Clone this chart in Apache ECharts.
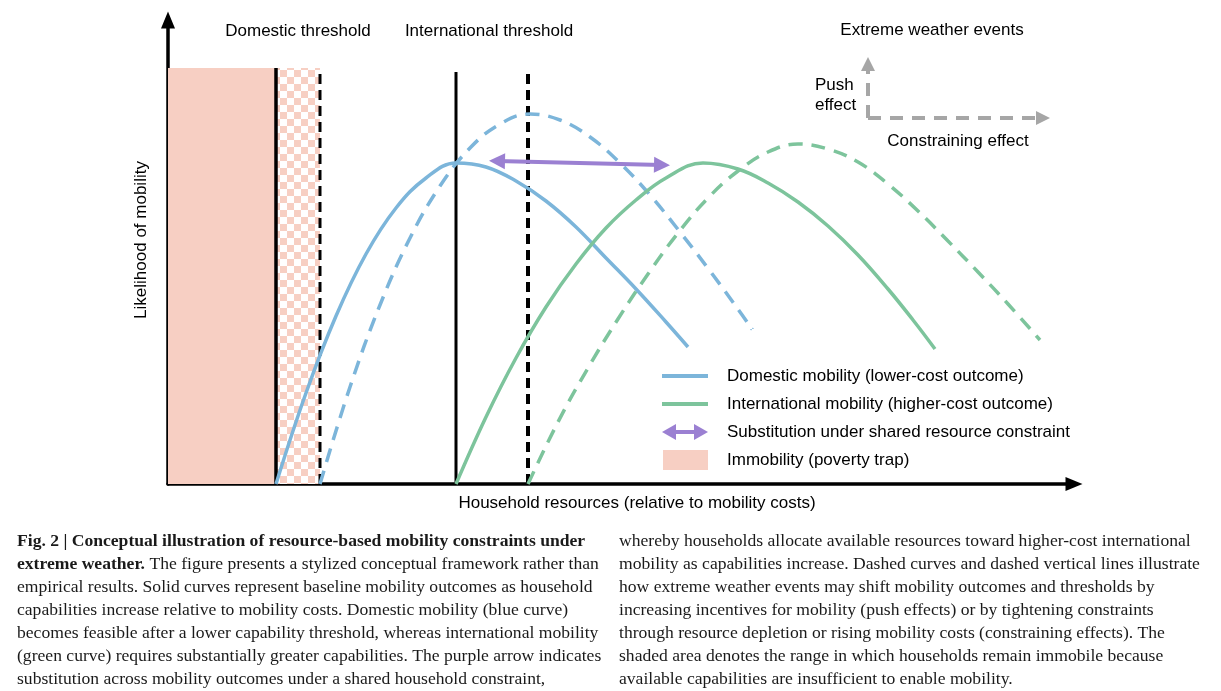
<!DOCTYPE html>
<html>
<head>
<meta charset="utf-8">
<script src="https://cdn.jsdelivr.net/npm/echarts@6/dist/echarts.min.js"></script>
<style>
  html, body { margin: 0; background: #fff; }
  #main { width: 1221px; height: 691px; }
</style>
</head>
<body>
<div id="main"></div>
<script>
// plot units: x = household resources, y = likelihood of mobility (origin at the axes corner)
var domesticBase = [[108,0],[138,91],[168,168],[198,230],[228,276],[258,306],[288,321],[318,317],
  [348,303],[378,283],[408,257],[438,226],[468,195],[498,162],[520,137]];
var domesticShift = [[152,0],[182,97],[212,179],[242,246],[272,298],[302,336],[332,360],[362,370],
  [392,364],[422,347],[452,321],[482,289],[512,252],[542,213],[572,172],[584,155]];
var internationalBase = [[288,0],[318,67],[348,126],[378,177],[408,220],[438,256],[468,284],[498,306],
  [535,321],[570,315],[600,301],[630,282],[660,258],[690,229],[720,195],[745,164],[767,135]];
var internationalShift = [[360,0],[390,62],[420,116],[450,165],[480,210],[510,251],[540,286],[570,313],
  [600,332],[630,340],[660,335],[690,322],[720,300],[750,273],[780,243],[810,212],[840,180],[872,144]];

var domesticThreshold = [108, 152];      // baseline, shifted
var internationalThreshold = [288, 360]; // baseline, shifted
var thresholdTop = [416, 416, 412, 414];
var immobileRange = [0, 108];
var shiftedImmobileRange = [108, 152];
var substitutionArrow = [[329, 323], [494, 319]];
var pushArrow = [[700, 366], [700, 420]];
var constrainArrow = [[700, 366], [875, 366]];

var BLUE = '#7cb5da', GREEN = '#7dc49c', PURPLE = '#9b80d2', PINK = '#f7cfc3', GRAY = '#a6a6a6';

// checkerboard for the shifted immobility band
var tile = document.createElement('canvas');
tile.width = 14; tile.height = 14;
var tctx = tile.getContext('2d');
tctx.fillStyle = '#fff'; tctx.fillRect(0, 0, 14, 14);
tctx.fillStyle = PINK; tctx.fillRect(0, 0, 7, 7); tctx.fillRect(7, 7, 7, 7);

var chart = echarts.init(document.getElementById('main'));

function vline(x, top, dashed, w) {
  return {
    type: 'line', data: [[x, 0], [x, top]], showSymbol: false, silent: true, z: 4,
    lineStyle: { color: '#000', width: w, type: dashed ? [10, 6] : 'solid' }
  };
}

var axisCommon = {
  type: 'value', min: 0,
  axisLine: { show: true, onZero: false, symbol: ['none', 'triangle'], symbolSize: [14, 17],
    lineStyle: { color: '#000', width: 3.5 } },
  axisTick: { show: false }, axisLabel: { show: false }, splitLine: { show: false }
};

var sans = 'Liberation Sans, Arial, sans-serif';
var serif = 'Liberation Serif, Times New Roman, serif';

var leftCaption = [
  '{b|Fig. 2 | Conceptual illustration of resource-based mobility constraints under}',
  '{b|extreme weather.} The figure presents a stylized conceptual framework rather than',
  'empirical results. Solid curves represent baseline mobility outcomes as household',
  'capabilities increase relative to mobility costs. Domestic mobility (blue curve)',
  'becomes feasible after a lower capability threshold, whereas international mobility',
  '(green curve) requires substantially greater capabilities. The purple arrow indicates',
  'substitution across mobility outcomes under a shared household constraint,'
];
var rightCaption = [
  'whereby households allocate available resources toward higher-cost international',
  'mobility as capabilities increase. Dashed curves and dashed vertical lines illustrate',
  'how extreme weather events may shift mobility outcomes and thresholds by',
  'increasing incentives for mobility (push effects) or by tightening constraints',
  'through resource depletion or rising mobility costs (constraining effects). The',
  'shaded area denotes the range in which households remain immobile because',
  'available capabilities are insufficient to enable mobility.'
];

function txt(x, y, s, opt) {
  return {
    type: 'text', x: x, y: y, silent: true,
    style: Object.assign({ text: s, fill: '#000', font: '17px ' + sans, align: 'center', verticalAlign: 'middle' }, opt || {})
  };
}

var legendRows = [
  { y: 376, label: 'Domestic mobility (lower-cost outcome)' },
  { y: 404, label: 'International mobility (higher-cost outcome)' },
  { y: 432, label: 'Substitution under shared resource constraint' },
  { y: 460, label: 'Immobility (poverty trap)' }
];

var graphics = [
  txt(298, 31, 'Domestic threshold'),
  txt(489, 31, 'International threshold'),
  txt(932, 30, 'Extreme weather events'),
  txt(815, 85, 'Push', { align: 'left' }),
  txt(815, 105, 'effect', { align: 'left' }),
  txt(958, 141, 'Constraining effect'),
  txt(637, 503, 'Household resources (relative to mobility costs)'),
  { type: 'text', x: 141, y: 240, rotation: Math.PI / 2, silent: true,
    style: { text: 'Likelihood of mobility', fill: '#000', font: '17px ' + sans, align: 'center', verticalAlign: 'middle' } },
  // legend
  { type: 'line', shape: { x1: 662, y1: 376, x2: 708, y2: 376 }, style: { stroke: BLUE, lineWidth: 4 } },
  { type: 'line', shape: { x1: 662, y1: 404, x2: 708, y2: 404 }, style: { stroke: GREEN, lineWidth: 4 } },
  { type: 'line', shape: { x1: 672, y1: 432, x2: 698, y2: 432 }, style: { stroke: PURPLE, lineWidth: 4 } },
  { type: 'polygon', shape: { points: [[662, 432], [676, 424], [676, 440]] }, style: { fill: PURPLE } },
  { type: 'polygon', shape: { points: [[708, 432], [694, 424], [694, 440]] }, style: { fill: PURPLE } },
  { type: 'rect', shape: { x: 663, y: 450, width: 45, height: 20 }, style: { fill: PINK } }
];
legendRows.forEach(function (r) {
  graphics.push(txt(727, r.y, r.label, { align: 'left' }));
});
graphics.push({
  type: 'text', x: 17, y: 530, silent: true,
  style: { text: leftCaption.join('\n'), fill: '#1a1a1a', fontFamily: serif, fontSize: 17.6, lineHeight: 23,
    align: 'left', verticalAlign: 'top',
    rich: { b: { fontFamily: serif, fontSize: 17.6, fontWeight: 'bold', lineHeight: 23, fill: '#1a1a1a' } } }
});
graphics.push({
  type: 'text', x: 619, y: 530, silent: true,
  style: { text: rightCaption.join('\n'), fill: '#1a1a1a', fontFamily: serif, fontSize: 17.6, lineHeight: 23,
    align: 'left', verticalAlign: 'top' }
});

var option = {
  animation: false,
  grid: { left: 168, right: 147, top: 20, bottom: 207 },
  xAxis: Object.assign({}, axisCommon, { max: 906 }),
  yAxis: Object.assign({}, axisCommon, { max: 464 }),
  graphic: graphics,
  series: [
    {
      name: 'Immobility (poverty trap)', type: 'line', data: [], silent: true, z: 1,
      markArea: {
        silent: true,
        data: [
          [{ xAxis: immobileRange[0], yAxis: 0, itemStyle: { color: PINK } },
           { xAxis: immobileRange[1], yAxis: thresholdTop[0] }],
          [{ xAxis: shiftedImmobileRange[0], yAxis: 0, itemStyle: { color: { image: tile, repeat: 'repeat' } } },
           { xAxis: shiftedImmobileRange[1], yAxis: thresholdTop[1] }]
        ]
      }
    },
    vline(domesticThreshold[0], thresholdTop[0], false, 3.5),
    vline(domesticThreshold[1], thresholdTop[1], true, 3),
    vline(internationalThreshold[0], thresholdTop[2], false, 3),
    vline(internationalThreshold[1], thresholdTop[3], true, 4),
    { name: 'Domestic mobility (lower-cost outcome)', type: 'line', data: domesticBase, smooth: 0.4,
      showSymbol: false, z: 5, lineStyle: { color: BLUE, width: 3.5 } },
    { name: 'Domestic mobility shifted', type: 'line', data: domesticShift, smooth: 0.4,
      showSymbol: false, z: 5, lineStyle: { color: BLUE, width: 3.5, type: [14, 9] } },
    { name: 'International mobility (higher-cost outcome)', type: 'line', data: internationalBase, smooth: 0.4,
      showSymbol: false, z: 5, lineStyle: { color: GREEN, width: 3.5 } },
    { name: 'International mobility shifted', type: 'line', data: internationalShift, smooth: 0.4,
      showSymbol: false, z: 5, lineStyle: { color: GREEN, width: 3.5, type: [14, 9] } },
    { name: 'Substitution under shared resource constraint', type: 'lines', coordinateSystem: 'cartesian2d',
      z: 6, symbol: ['triangle', 'triangle'], symbolSize: [16, 16],
      lineStyle: { color: PURPLE, width: 4, opacity: 1, curveness: 0 },
      data: [{ coords: substitutionArrow }] },
    { name: 'Extreme weather events', type: 'lines', coordinateSystem: 'cartesian2d',
      z: 6, symbol: ['none', 'triangle'], symbolSize: [16, 14],
      lineStyle: { color: GRAY, width: 4, opacity: 1, type: [13, 9], curveness: 0 },
      data: [{ coords: pushArrow }, { coords: constrainArrow }] }
  ]
};

chart.setOption(option);
</script>
</body>
</html>
